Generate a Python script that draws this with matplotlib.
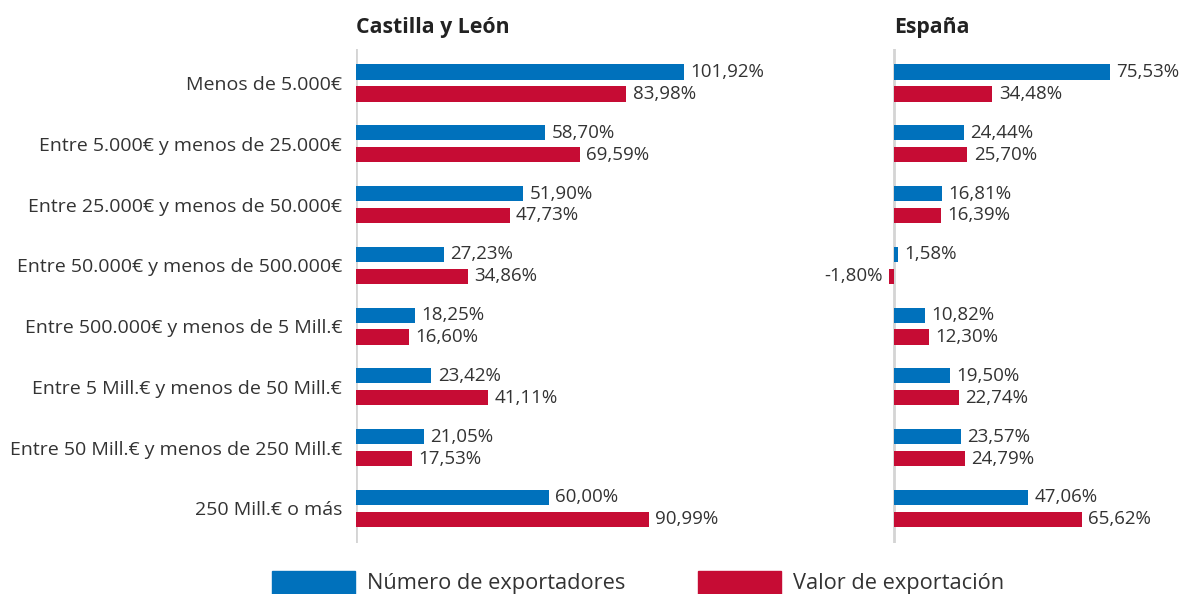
import numpy as np
import matplotlib.pyplot as plt
from matplotlib.transforms import blended_transform_factory
from matplotlib.patches import Rectangle

plt.rcParams['font.family'] = ['Open Sans', 'DejaVu Sans']

# Datos
categorias = ["Menos de 5.000€", "Entre 5.000€ y menos de 25.000€",
              "Entre 25.000€ y menos de 50.000€", "Entre 50.000€ y menos de 500.000€",
              "Entre 500.000€ y menos de 5 Mill.€", "Entre 5 Mill.€ y menos de 50 Mill.€",
              "Entre 50 Mill.€ y menos de 250 Mill.€", "250 Mill.€ o más"]
cyl_num = [101.92, 58.70, 51.90, 27.23, 18.25, 23.42, 21.05, 60.00]
cyl_val = [83.98, 69.59, 47.73, 34.86, 16.60, 41.11, 17.53, 90.99]
esp_num = [75.53, 24.44, 16.81, 1.58, 10.82, 19.50, 23.57, 47.06]
esp_val = [34.48, 25.70, 16.39, -1.80, 12.30, 22.74, 24.79, 65.62]
titulos = ["Castilla y León", "España"]
series = ["Número de exportadores", "Valor de exportación"]

AZUL = '#0071bc'
ROJO = '#c60c34'
TXT = '#333333'
W, H = 1185, 594

fig = plt.figure(figsize=(W / 100, H / 100), dpi=100)

# posiciones en pixeles: (izquierda, ancho, xmin, xmax)
top_px, bot_px = 49, 543
paneles = [(356, 400, 0, 400 / 3.22), (871, 300, -8, None)]
datos = [(cyl_num, cyl_val), (esp_num, esp_val)]

y = np.arange(len(categorias))
off = 0.18
alto = 0.25

for i, ((left, width, xmin, xmax), (num, val), tit) in enumerate(zip(paneles, datos, titulos)):
    ax = fig.add_axes([left / W, 1 - bot_px / H, width / W, (bot_px - top_px) / H])
    if xmax is None:
        xmax = xmin + width / 2.86
    ax.set_xlim(xmin, xmax)
    ax.set_ylim(len(categorias) - 0.43, -0.56)
    ax.barh(y - off, num, height=alto, color=AZUL, zorder=2)
    ax.barh(y + off, val, height=alto, color=ROJO, zorder=2)
    ax.axvline(0, color='#d4d4d4', lw=2, zorder=1)
    for v, yy in zip(num, y - off):
        ax.annotate(f"{v:.2f}%".replace('.', ','), (v, yy), xytext=(4.5 if v >= 0 else -4.5, 0),
                    textcoords='offset points', va='center', ha='left' if v >= 0 else 'right',
                    fontsize=13.5, color=TXT)
    for v, yy in zip(val, y + off):
        ax.annotate(f"{v:.2f}%".replace('.', ','), (v, yy), xytext=(4.5 if v >= 0 else -4.5, 0),
                    textcoords='offset points', va='center', ha='left' if v >= 0 else 'right',
                    fontsize=13.5, color=TXT)
    for s in ax.spines.values():
        s.set_visible(False)
    ax.set_xticks([])
    if i == 0:
        ax.set_yticks(y, categorias, fontsize=14, color=TXT)
        ax.tick_params(axis='y', length=0, pad=10)
    else:
        ax.set_yticks([])
    tr = blended_transform_factory(ax.transData, fig.transFigure)
    ax.text(0, 1 - 28 / H, tit, transform=tr, fontsize=15.3, fontweight='bold',
            color='#222222', va='center', ha='left')

# Leyenda
for x0, col, lab in [(272, AZUL, series[0]), (698, ROJO, series[1])]:
    fig.patches.append(Rectangle((x0 / W, 0), 83 / W, 23 / H, transform=fig.transFigure,
                                 color=col, figure=fig))
    fig.text((x0 + 95) / W, 10 / H, lab, fontsize=15.7, color=TXT, va='center', ha='left')

fig.savefig('out.png', dpi=100)
